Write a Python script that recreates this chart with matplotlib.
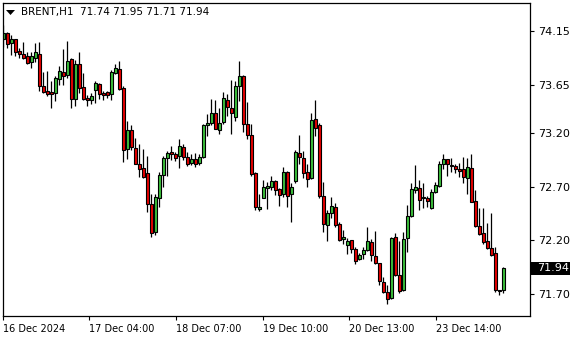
import matplotlib
matplotlib.use("Agg")
import matplotlib.pyplot as plt
from matplotlib.patches import Rectangle, Polygon
from matplotlib.transforms import blended_transform_factory

# BRENT H1 свечи (O, H, L, C)
opens = [74.08, 74.13, 74.04, 74.08, 73.96, 73.94, 73.92, 73.86, 73.90, 73.94,
         73.64, 73.59, 73.58, 73.57, 73.70, 73.77, 73.74, 73.89, 73.52, 73.84,
         73.63, 73.53, 73.51, 73.60, 73.66, 73.57, 73.58, 73.56, 73.76, 73.80,
         73.62, 73.05, 73.23, 73.06, 72.91, 72.87, 72.83, 72.54, 72.28, 72.59,
         72.81, 72.97, 73.02, 73.00, 72.99, 73.07, 72.98, 72.92, 72.96, 72.92,
         72.98, 73.27, 73.29, 73.39, 73.23, 73.30, 73.51, 73.43, 73.35, 73.64,
         73.73, 73.28, 73.18, 72.83, 72.49, 72.59, 72.69, 72.70, 72.75, 72.68,
         72.63, 72.84, 72.63, 72.75, 73.01, 72.97, 72.84, 72.78, 73.33, 73.27,
         72.61, 72.34, 72.45, 72.51, 72.35, 72.21, 72.16, 72.20, 72.12, 72.03,
         72.07, 72.11, 72.18, 72.05, 71.99, 71.81, 71.72, 71.66, 72.23, 71.88,
         71.74, 72.22, 72.43, 72.67, 72.69, 72.59, 72.59, 72.50, 72.65, 72.71,
         72.91, 72.96, 72.90, 72.89, 72.86, 72.86, 72.78, 72.87, 72.57, 72.33,
         72.27, 72.19, 72.13, 72.08, 71.74, 71.74]
highs = [74.21, 74.14, 74.11, 74.08, 73.99, 74.05, 73.95, 73.95, 74.04, 74.05,
         73.77, 73.78, 73.68, 73.73, 73.82, 73.98, 74.06, 73.90, 73.88, 73.95,
         73.76, 73.55, 73.57, 73.68, 73.67, 73.59, 73.59, 73.79, 73.84, 73.87,
         73.64, 73.31, 73.27, 73.15, 73.10, 73.05, 72.99, 72.63, 72.63, 72.84,
         72.99, 73.03, 73.08, 73.02, 73.14, 73.10, 73.02, 73.00, 73.01, 73.00,
         73.28, 73.38, 73.52, 73.51, 73.43, 73.58, 73.56, 73.69, 73.68, 73.87,
         73.74, 73.49, 73.28, 72.84, 72.63, 72.76, 72.74, 72.80, 72.76, 72.69,
         72.88, 72.85, 72.73, 73.04, 73.18, 73.03, 72.91, 73.39, 73.51, 73.29,
         72.74, 72.48, 72.60, 72.55, 72.37, 72.30, 72.22, 72.20, 72.14, 72.08,
         72.14, 72.32, 72.21, 72.29, 71.99, 71.86, 71.78, 72.23, 72.27, 72.19,
         72.28, 72.53, 72.73, 72.90, 72.76, 72.73, 72.61, 72.68, 72.74, 72.94,
         73.00, 72.96, 72.97, 72.91, 72.92, 72.98, 72.97, 73.00, 72.67, 72.50,
         72.50, 72.36, 72.45, 72.14, 71.74, 71.95]
lows = [74.00, 73.99, 73.93, 73.92, 73.90, 73.89, 73.84, 73.81, 73.86, 73.59,
        73.57, 73.54, 73.43, 73.50, 73.65, 73.65, 73.71, 73.43, 73.45, 73.57,
        73.51, 73.45, 73.47, 73.48, 73.52, 73.51, 73.53, 73.51, 73.75, 73.60,
        72.93, 72.96, 73.04, 72.91, 72.79, 72.78, 72.46, 72.23, 72.25, 72.51,
        72.70, 72.80, 72.95, 72.94, 72.87, 72.95, 72.89, 72.90, 72.88, 72.90,
        72.97, 73.17, 73.27, 73.24, 73.19, 73.28, 73.36, 73.19, 73.31, 73.50,
        73.21, 73.14, 72.80, 72.48, 72.47, 72.59, 72.49, 72.67, 72.62, 72.52,
        72.60, 72.51, 72.37, 72.73, 72.91, 72.78, 72.70, 72.77, 73.17, 72.59,
        72.28, 72.19, 72.41, 72.32, 72.19, 72.17, 72.07, 72.08, 71.98, 72.02,
        72.03, 72.10, 72.01, 71.98, 71.78, 71.71, 71.61, 71.65, 71.87, 71.71,
        71.73, 72.09, 72.42, 72.64, 72.48, 72.50, 72.51, 72.49, 72.64, 72.70,
        72.86, 72.80, 72.84, 72.83, 72.79, 72.73, 72.63, 72.56, 72.32, 72.25,
        72.17, 72.12, 72.05, 71.72, 71.69, 71.71]
closes = [74.13, 74.03, 74.08, 73.95, 73.94, 73.90, 73.85, 73.92, 73.95, 73.64,
          73.58, 73.56, 73.56, 73.71, 73.78, 73.73, 73.87, 73.52, 73.84, 73.62,
          73.52, 73.51, 73.54, 73.67, 73.56, 73.55, 73.55, 73.77, 73.81, 73.61,
          73.04, 73.23, 73.07, 72.91, 72.86, 72.79, 72.54, 72.27, 72.60, 72.81,
          72.97, 73.01, 73.00, 72.97, 73.08, 72.98, 72.91, 72.96, 72.91, 72.98,
          73.27, 73.29, 73.39, 73.24, 73.29, 73.53, 73.44, 73.39, 73.64, 73.73,
          73.28, 73.18, 72.82, 72.51, 72.51, 72.70, 72.71, 72.75, 72.67, 72.62,
          72.84, 72.61, 72.70, 73.02, 72.98, 72.83, 72.77, 73.32, 73.25, 72.61,
          72.35, 72.45, 72.52, 72.34, 72.20, 72.23, 72.19, 72.12, 72.01, 72.06,
          72.11, 72.19, 72.06, 71.99, 71.82, 71.72, 71.65, 72.22, 71.88, 71.73,
          72.21, 72.43, 72.68, 72.70, 72.58, 72.60, 72.57, 72.65, 72.72, 72.91,
          72.96, 72.91, 72.89, 72.86, 72.85, 72.79, 72.88, 72.56, 72.33, 72.26,
          72.18, 72.13, 72.06, 71.74, 71.73, 71.94]

price_ticks = [74.15, 73.65, 73.20, 72.70, 72.20, 71.70]
time_labels = ["16 Dec 2024", "17 Dec 04:00", "18 Dec 07:00",
               "19 Dec 10:00", "20 Dec 13:00", "23 Dec 14:00"]
time_pos = [0, 21.5, 43.2, 64.9, 86.4, 108.1]  # номер бара под меткой

up_color = "#3cc03c"
down_color = "#e60000"

fig = plt.figure(figsize=(5.8, 3.4), dpi=100)
ax = fig.add_axes([0.0047, 0.0706, 0.9097, 0.9215])

n = len(opens)
x = list(range(n))

# тени
ax.vlines(x, lows, highs, color="black", linewidth=0.9, zorder=1)

# тела свечей
bottoms = [min(o, c) for o, c in zip(opens, closes)]
heights = [max(abs(c - o), 0.004) for o, c in zip(opens, closes)]
colors = [up_color if c >= o else down_color for o, c in zip(opens, closes)]
ax.bar(x, heights, bottom=bottoms, width=0.7, color=colors,
       edgecolor="black", linewidth=0.8, zorder=2)

ax.set_xlim(-0.15, 131.75)
ax.set_ylim(71.495, 74.414)

ax.yaxis.tick_right()
ax.set_yticks(price_ticks)
ax.set_yticklabels([f"{v:.2f}" for v in price_ticks])
ax.tick_params(axis="y", direction="out", length=3, width=0.8, pad=2.5,
               labelsize=8, colors="black")

ax.set_xticks(time_pos)
ax.set_xticklabels(time_labels, ha="left")
ax.tick_params(axis="x", direction="out", length=3, width=0.8, pad=3,
               labelsize=7, colors="black")

for s in ax.spines.values():
    s.set_linewidth(0.9)
    s.set_color("black")

# текущая цена справа
tr = blended_transform_factory(ax.transAxes, ax.transData)
last = closes[-1]
box_h = 13 / 107.35
ax.add_patch(Rectangle((1.001, last - box_h / 2), 39 / 527.6, box_h,
                       transform=tr, facecolor="black", edgecolor="none",
                       clip_on=False, zorder=5))
ax.text(1.0127, last, f"{last:.2f}", transform=tr, color="white",
        fontsize=8, ha="left", va="center", zorder=6)

# заголовок
tri = Polygon([[6 / 580, 1 - 10 / 340], [15 / 580, 1 - 10 / 340],
               [10.5 / 580, 1 - 15 / 340]], closed=True,
              transform=fig.transFigure, facecolor="black", edgecolor="none")
fig.add_artist(tri)
header = f"BRENT,H1  {opens[-1]:.2f} {highs[-1]:.2f} {lows[-1]:.2f} {closes[-1]:.2f}"
fig.text(21 / 580, 1 - 12.5 / 340, header, fontsize=7.5, color="black",
         ha="left", va="center")

fig.savefig("out.png", dpi=100)
